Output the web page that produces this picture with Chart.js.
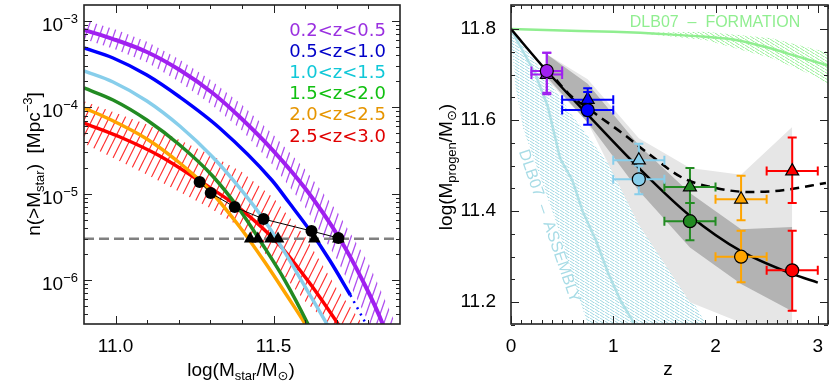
<!DOCTYPE html>
<html>
<head>
<meta charset="utf-8">
<script src="https://cdn.jsdelivr.net/npm/chart.js@4.4.0/dist/chart.umd.min.js"></script>
<style>
html, body { margin: 0; padding: 0; background: #fff; }
#wrap { position: relative; width: 830px; height: 387px; }
canvas { position: absolute; top: 0; }
</style>
</head>
<body>
<div id="wrap">
  <canvas id="leftChart" width="415" height="387" style="left:0"></canvas>
  <canvas id="rightChart" width="415" height="387" style="left:415px"></canvas>
</div>
<script>
// ---------- left panel: cumulative number densities (log10 n) vs log stellar mass ----------
const binLabels = ['0.2<z<0.5', '0.5<z<1.0', '1.0<z<1.5', '1.5<z<2.0', '2.0<z<2.5', '2.5<z<3.0'];
const binColors = ['#a020f0', '#0000ff', '#87ceeb', '#228b22', '#ffa500', '#ff0000'];
const labelColors = ['#9a30e0', '#0000c8', '#10c8d8', '#10c010', '#e69500', '#e00000'];

const massPurple = [10.900, 10.992, 11.099, 11.203, 11.307, 11.393, 11.497, 11.604, 11.708, 11.781, 11.844, 11.870];
const logPurple  = [-3.104, -3.209, -3.359, -3.568, -3.834, -4.112, -4.495, -4.958, -5.514, -6.001, -6.499, -6.780];
const massPurpleBand = [10.90, 11.00, 11.10, 11.20, 11.30, 11.40, 11.50, 11.60, 11.70, 11.80, 11.90];
const purpleHi = [-2.99, -3.10, -3.24, -3.44, -3.68, -3.97, -4.32, -4.72, -5.20, -5.80, -6.62];
const purpleLo = [-3.21, -3.33, -3.48, -3.70, -3.96, -4.27, -4.68, -5.16, -5.76, -6.48, -7.40];

const massBlue = [10.900, 10.992, 11.099, 11.203, 11.329, 11.494, 11.550, 11.614, 11.677, 11.743];
const logBlue  = [-3.313, -3.429, -3.626, -3.881, -4.240, -4.842, -5.109, -5.422, -5.769, -6.175];
const massBlueDot = [11.743, 11.800];
const logBlueDot  = [-6.175, -6.560];

const massCyan = [10.900, 10.992, 11.099, 11.203, 11.307, 11.393, 11.468, 11.535, 11.604, 11.667, 11.690];
const logCyan  = [-3.579, -3.707, -3.927, -4.217, -4.576, -4.935, -5.294, -5.677, -6.105, -6.499, -6.650];

const massGreen = [10.900, 10.992, 11.099, 11.203, 11.307, 11.393, 11.462, 11.535, 11.607, 11.630];
const logGreen  = [-3.776, -3.915, -4.147, -4.437, -4.796, -5.190, -5.572, -6.001, -6.499, -6.680];

const massOrange = [10.900, 10.973, 11.099, 11.203, 11.288, 11.393, 11.472, 11.541, 11.598, 11.620];
const logOrange  = [-4.008, -4.124, -4.367, -4.645, -4.924, -5.387, -5.793, -6.175, -6.499, -6.640];

const massRed = [10.900, 11.014, 11.140, 11.266, 11.392, 11.519, 11.614, 11.702, 11.720];
const logRed  = [-4.182, -4.344, -4.564, -4.854, -5.167, -5.596, -6.036, -6.499, -6.600];
const massRedBand = [10.90, 11.10, 11.30, 11.40, 11.50, 11.60, 11.70, 11.79, 11.85];
const redHi = [-3.93, -4.20, -4.55, -4.75, -5.05, -5.50, -6.10, -6.55, -6.90];
const redLo = [-4.42, -4.78, -5.17, -5.40, -5.80, -6.25, -6.60, -7.00, -7.20];

const massCircles = [11.266, 11.301, 11.377, 11.468, 11.620, 11.705];
const logCircles  = [-4.866, -4.993, -5.155, -5.294, -5.433, -5.514];
const massTriangles = [11.426, 11.450, 11.490, 11.514, 11.629, 11.705];
const nThreshold = 3e-6;

// ---------- right panel: progenitor mass vs redshift ----------
const zBins = [0.35, 0.75, 1.25, 1.75, 2.25, 2.75];
const zLo = [0.2, 0.5, 1.0, 1.5, 2.0, 2.5];
const zHi = [0.5, 1.0, 1.5, 2.0, 2.5, 3.0];
const circMass = [11.708, 11.622, 11.470, 11.378, 11.300, 11.270];
const circLo   = [11.657, 11.590, 11.437, 11.336, 11.244, 11.181];
const circHi   = [11.748, 11.662, 11.500, 11.418, 11.357, 11.357];
const triMass  = [11.700, 11.645, 11.512, 11.453, 11.426, 11.488];
const triLo    = [11.660, 11.610, 11.480, 11.418, 11.380, 11.418];
const triHi    = [11.748, 11.670, 11.548, 11.495, 11.478, 11.562];

const zFit = [0, 0.35, 0.75, 1.25, 1.75, 2.25, 2.75, 3.0];
const mFit = [11.800, 11.708, 11.612, 11.495, 11.390, 11.312, 11.262, 11.243];
const zFitDash = [0.35, 0.56, 0.82, 1.09, 1.34, 1.68, 2.00, 2.33, 2.66, 3.08];
const mFitDash = [11.714, 11.659, 11.615, 11.571, 11.527, 11.473, 11.451, 11.442, 11.446, 11.462];

const zBand = [0.35, 0.75, 1.25, 1.75, 2.25, 2.75];
const darkHi  = [11.745, 11.680, 11.545, 11.440, 11.360, 11.365];
const darkLo  = [11.695, 11.595, 11.445, 11.320, 11.240, 11.180];
const lightHi = [11.745, 11.690, 11.560, 11.495, 11.480, 11.585];
const lightLo = [11.690, 11.595, 11.370, 11.200, 11.155, 11.155];

const zAsmHi = [0, 0.3, 0.6, 1.0, 1.4, 1.9, 2.1];
const mAsmHi = [11.800, 11.710, 11.610, 11.490, 11.350, 11.155, 11.080];
const zAsmLo = [0, 0.04, 0.12, 0.20, 0.45, 0.65, 0.75, 2.1];
const mAsmLo = [11.790, 11.680, 11.580, 11.530, 11.370, 11.220, 11.152, 10.500];
const zAsm = [0, 0.056, 0.235, 0.36, 0.48, 0.60, 0.70, 0.83, 0.95, 1.07, 1.24, 1.32];
const mAsm = [11.800, 11.776, 11.703, 11.630, 11.516, 11.468, 11.400, 11.336, 11.264, 11.204, 11.140, 11.110];

const zForm = [0, 0.5, 1.0, 1.5, 1.9, 2.2, 2.5, 2.8, 3.1];
const mForm = [11.800, 11.797, 11.794, 11.789, 11.783, 11.776, 11.760, 11.740, 11.720];
const zFormBand = [1.3, 1.9, 2.55, 3.0, 3.1];
const formHi = [11.792, 11.794, 11.780, 11.754, 11.750];
const formLo = [11.790, 11.776, 11.736, 11.694, 11.677];

Chart.defaults.font.family = 'Liberation Sans';
Chart.defaults.color = '#000';

function pts(xs, ys, isLog) {
    return xs.map((x, i) => ({ x: x, y: isLog ? Math.pow(10, ys[i]) : ys[i] }));
}

function hatch(color, w, h, lw, slash) {
    const c = document.createElement('canvas');
    c.width = w; c.height = h;
    const g = c.getContext('2d');
    g.strokeStyle = color; g.lineWidth = lw;
    g.beginPath();
    for (let k = -1; k <= 1; k++) {
        if (slash) { g.moveTo(k * w, h); g.lineTo(k * w + w, 0); }
        else { g.moveTo(k * w, 0); g.lineTo(k * w + w, h); }
    }
    g.stroke();
    return g.createPattern(c, 'repeat');
}

function richText(ctx, parts, x, y, angle, align) {
    ctx.save();
    ctx.translate(x, y);
    ctx.rotate(angle);
    let w = 0;
    parts.forEach(p => { ctx.font = p[1] + 'px "' + (p[3] || 'Liberation Sans') + '"'; w += ctx.measureText(p[0]).width; });
    let cx = align === 'center' ? -w / 2 : (align === 'right' ? -w : 0);
    ctx.textAlign = 'left';
    ctx.textBaseline = 'alphabetic';
    parts.forEach(p => {
        ctx.font = p[1] + 'px "' + (p[3] || 'Liberation Sans') + '"';
        ctx.fillText(p[0], cx, p[2]);
        cx += ctx.measureText(p[0]).width;
    });
    ctx.restore();
}

function drawFrame(chart, xMajor, xMinor, yMajor, yMinor) {
    const { ctx, chartArea: a, scales: { x, y } } = chart;
    ctx.save();
    ctx.strokeStyle = '#222';
    ctx.lineWidth = 1;
    ctx.beginPath();
    const xt = (v, len) => {
        const p = Math.round(x.getPixelForValue(v)) + 0.5;
        ctx.moveTo(p, a.bottom); ctx.lineTo(p, a.bottom - len);
        ctx.moveTo(p, a.top); ctx.lineTo(p, a.top + len);
    };
    const yt = (v, len) => {
        const p = Math.round(y.getPixelForValue(v)) + 0.5;
        ctx.moveTo(a.left, p); ctx.lineTo(a.left + len, p);
        ctx.moveTo(a.right, p); ctx.lineTo(a.right - len, p);
    };
    xMajor.forEach(v => xt(v, 8));
    xMinor.forEach(v => xt(v, 4));
    yMajor.forEach(v => yt(v, 8));
    yMinor.forEach(v => yt(v, 4));
    ctx.stroke();
    ctx.lineWidth = 1.6;
    ctx.strokeRect(a.left, a.top, a.right - a.left, a.bottom - a.top);
    ctx.restore();
}

// Chart.js reserves room for edge labels; the frame is placed by hand, so drop that
function fixX(s) { s.height = 63; s.paddingLeft = 0; s.paddingRight = 0; }
function fixY(w) { return s => { s.width = w; s.paddingTop = 0; s.paddingBottom = 0; }; }

const hidden = 'rgba(0,0,0,0)';

// ---------- left chart ----------
const leftDecades = [-6, -5, -4, -3];
const leftMinorY = [];
for (let e = -7; e <= -3; e++) for (let m = 2; m <= 9; m++) {
    const v = m * Math.pow(10, e);
    if (v > Math.pow(10, -6.51) && v < Math.pow(10, -2.815)) leftMinorY.push(v);
}

const leftDeco = {
    id: 'leftDeco',
    afterDatasetsDraw(chart) {
        const { ctx, scales: { y } } = chart;
        drawFrame(chart, [11.0, 11.5], [11.1, 11.2, 11.3, 11.4, 11.6, 11.7, 11.8],
            leftDecades.map(e => Math.pow(10, e)), leftMinorY);
        ctx.fillStyle = '#000';
        leftDecades.forEach(e => {
            const py = y.getPixelForValue(Math.pow(10, e));
            richText(ctx, [['10', 19, 0], ['\u2212' + Math.abs(e), 13, -8]], 78, py + 10, 0, 'right');
        });
        richText(ctx, [['n(>M', 19, 0], ['star', 13, 4], [')  [Mpc', 19, 0], ['\u22123', 13, -8], [']', 19, 0]],
            40, 164, -Math.PI / 2, 'center');
        richText(ctx, [['log(M', 19, 0], ['star', 13, 4], ['/M', 19, 0], ['\u2299', 13, 4, 'DejaVu Sans'], [')', 19, 0]],
            241, 376, 0, 'center');
        ctx.textAlign = 'right';
        ctx.textBaseline = 'alphabetic';
        ctx.font = '18px "DejaVu Sans"';
        binLabels.forEach((t, i) => {
            ctx.fillStyle = labelColors[i];
            ctx.fillText(t, 386, 35.5 + i * 21.2);
        });
    }
};

const purpleHatch = hatch('#b050f0', 7, 20, 1.3, true);
const redHatch = hatch('#ff3030', 8, 16, 1.2, true);

function curve(xs, ys, color, order, extra) {
    return Object.assign({
        data: pts(xs, ys, true), borderColor: color, borderWidth: 3.5,
        pointRadius: 0, fill: false, cubicInterpolationMode: 'monotone', order: order
    }, extra || {});
}

new Chart(document.getElementById('leftChart'), {
    type: 'line',
    data: {
        datasets: [
            { data: pts(massPurpleBand, purpleHi, true), borderColor: hidden, borderWidth: 0, pointRadius: 0, backgroundColor: purpleHatch, fill: '+1', order: 20 },
            { data: pts(massPurpleBand, purpleLo, true), borderColor: hidden, borderWidth: 0, pointRadius: 0, fill: false, order: 20 },
            { data: pts(massRedBand, redHi, true), borderColor: hidden, borderWidth: 0, pointRadius: 0, backgroundColor: redHatch, fill: '+1', order: 19 },
            { data: pts(massRedBand, redLo, true), borderColor: hidden, borderWidth: 0, pointRadius: 0, fill: false, order: 19 },
            curve(massRed, logRed, binColors[5], 10),
            curve(massOrange, logOrange, binColors[4], 9),
            curve(massGreen, logGreen, binColors[3], 8),
            curve(massCyan, logCyan, binColors[2], 7),
            curve(massBlue, logBlue, binColors[1], 6),
            curve(massBlueDot, logBlueDot, binColors[1], 6, { borderWidth: 2.5, borderDash: [2, 5] }),
            curve(massPurple, logPurple, binColors[0], 5, { borderWidth: 4 }),
            { data: [{ x: 10.9, y: nThreshold }, { x: 11.9, y: nThreshold }], borderColor: '#808080', borderWidth: 2.5, borderDash: [10, 5], pointRadius: 0, fill: false, order: 4 },
            { data: massTriangles.map(m => ({ x: m, y: nThreshold })), showLine: false, pointStyle: 'triangle', pointRadius: 7.3, pointBackgroundColor: '#000', pointBorderColor: '#000', pointBorderWidth: 0, order: 3 },
            { data: pts(massCircles, logCircles, true), borderColor: '#000', borderWidth: 1, pointStyle: 'circle', pointRadius: 6, pointBackgroundColor: '#000', pointBorderWidth: 0, fill: false, tension: 0, order: 2 }
        ]
    },
    options: {
        responsive: false, animation: false, devicePixelRatio: 1,
        layout: { autoPadding: false, padding: { top: 5, right: 15, left: 0, bottom: 0 } },
        plugins: { legend: { display: false }, tooltip: { enabled: false } },
        scales: {
            x: {
                type: 'linear', min: 10.9, max: 11.9, bounds: 'data',
                grid: { display: false }, border: { display: false },
                ticks: { font: { size: 19 }, padding: 3, maxRotation: 0, callback: v => v.toFixed(1) },
                afterBuildTicks: s => { s.ticks = [11.0, 11.5].map(v => ({ value: v })); },
                afterFit: fixX
            },
            y: {
                type: 'logarithmic', min: Math.pow(10, -6.51), max: Math.pow(10, -2.815), bounds: 'data',
                grid: { display: false }, border: { display: false },
                ticks: { display: false },
                afterFit: fixY(84)
            }
        }
    },
    plugins: [leftDeco]
});

// ---------- right chart ----------
const rightMinorX = [];
for (let k = 1; k <= 31; k++) if (k % 10 !== 0) rightMinorX.push(k / 10);
const rightMinorY = [];
for (let k = 0; k <= 14; k++) { const v = 11.15 + k * 0.05; if (Math.round(v * 100) % 20 !== 0) rightMinorY.push(v); }

const errBars = {
    id: 'errBars',
    beforeDatasetDraw(chart, args) {
        const ds = chart.data.datasets[args.index];
        if (!ds.errLo) return;
        const { ctx, scales: { x, y } } = chart;
        ctx.save();
        ctx.lineWidth = 2;
        zBins.forEach((z, i) => {
            const px = x.getPixelForValue(z), py = y.getPixelForValue(ds.values[i]);
            const x0 = x.getPixelForValue(zLo[i]), x1 = x.getPixelForValue(zHi[i]);
            const y0 = y.getPixelForValue(ds.errLo[i]), y1 = y.getPixelForValue(ds.errHi[i]);
            ctx.strokeStyle = binColors[i];
            ctx.beginPath();
            ctx.moveTo(x0, py); ctx.lineTo(x1, py);
            ctx.moveTo(x0, py - 4.5); ctx.lineTo(x0, py + 4.5);
            ctx.moveTo(x1, py - 4.5); ctx.lineTo(x1, py + 4.5);
            ctx.moveTo(px, y0); ctx.lineTo(px, y1);
            ctx.moveTo(px - 4.5, y0); ctx.lineTo(px + 4.5, y0);
            ctx.moveTo(px - 4.5, y1); ctx.lineTo(px + 4.5, y1);
            ctx.stroke();
        });
        ctx.restore();
    }
};

const rightDeco = {
    id: 'rightDeco',
    afterDatasetsDraw(chart) {
        const { ctx } = chart;
        ctx.save();
        ctx.fillStyle = '#90ee90';
        ctx.font = '16px "Liberation Sans"';
        ctx.textAlign = 'center';
        ctx.textBaseline = 'alphabetic';
        ctx.fillText('DLB07  \u2013  FORMATION', 300, 26.5);
        ctx.translate(134, 226);
        ctx.rotate(71 * Math.PI / 180);
        ctx.fillStyle = '#a8dce6';
        ctx.textBaseline = 'middle';
        ctx.fillText('DLB07  \u2013  ASSEMBLY', 0, 0);
        ctx.restore();
        drawFrame(chart, [0, 1, 2, 3], rightMinorX, [11.2, 11.4, 11.6, 11.8], rightMinorY);
        ctx.fillStyle = '#000';
        richText(ctx, [['log(M', 19, 0], ['progen', 13, 4], ['/M', 19, 0], ['\u2299', 13, 4, 'DejaVu Sans'], [')', 19, 0]],
            37, 167, -Math.PI / 2, 'center');
        richText(ctx, [['z', 19, 0]], 253, 375, 0, 'center');
    }
};

const cyanHatch = hatch('#9fd8e2', 5, 3.5, 1, false);
const greenHatch = hatch('#98f098', 5, 3.5, 1, false);

new Chart(document.getElementById('rightChart'), {
    type: 'line',
    data: {
        datasets: [
            { data: pts(zAsmHi, mAsmHi), borderColor: hidden, borderWidth: 0, pointRadius: 0, backgroundColor: cyanHatch, fill: '+1', order: 30 },
            { data: pts(zAsmLo, mAsmLo), borderColor: hidden, borderWidth: 0, pointRadius: 0, fill: false, order: 30 },
            { data: pts(zFormBand, formHi), borderColor: hidden, borderWidth: 0, pointRadius: 0, backgroundColor: greenHatch, fill: '+1', order: 29 },
            { data: pts(zFormBand, formLo), borderColor: hidden, borderWidth: 0, pointRadius: 0, fill: false, order: 29 },
            { data: pts(zBand, lightHi), borderColor: hidden, borderWidth: 0, pointRadius: 0, backgroundColor: '#e6e6e6', fill: '+1', order: 28 },
            { data: pts(zBand, lightLo), borderColor: hidden, borderWidth: 0, pointRadius: 0, fill: false, order: 28 },
            { data: pts(zBand, darkHi), borderColor: hidden, borderWidth: 0, pointRadius: 0, backgroundColor: '#b3b3b3', fill: '+1', order: 27 },
            { data: pts(zBand, darkLo), borderColor: hidden, borderWidth: 0, pointRadius: 0, fill: false, order: 27 },
            { data: pts(zAsm, mAsm), borderColor: '#b0e0e6', borderWidth: 2.5, pointRadius: 0, fill: false, tension: 0, order: 20 },
            { data: pts(zForm, mForm), borderColor: '#90ee90', borderWidth: 2.5, pointRadius: 0, fill: false, cubicInterpolationMode: 'monotone', order: 19 },
            { data: pts(zFit, mFit), borderColor: '#000', borderWidth: 2.5, pointRadius: 0, fill: false, cubicInterpolationMode: 'monotone', order: 10 },
            { data: pts(zFitDash, mFitDash), borderColor: '#000', borderWidth: 2.5, borderDash: [9, 6], pointRadius: 0, fill: false, cubicInterpolationMode: 'monotone', order: 9 },
            { data: pts(zBins, triMass), values: triMass, errLo: triLo, errHi: triHi, showLine: false, pointStyle: 'triangle', pointRadius: 7.5,
              pointBackgroundColor: binColors, pointBorderColor: '#000', pointBorderWidth: 1.2, order: 5 },
            { data: pts(zBins, circMass), values: circMass, errLo: circLo, errHi: circHi, showLine: false, pointStyle: 'circle', pointRadius: 6.5,
              pointBackgroundColor: binColors, pointBorderColor: '#000', pointBorderWidth: 1.2, order: 4 }
        ]
    },
    options: {
        responsive: false, animation: false, devicePixelRatio: 1,
        layout: { autoPadding: false, padding: { top: 5, right: 2, left: 0, bottom: 0 } },
        plugins: { legend: { display: false }, tooltip: { enabled: false } },
        scales: {
            x: {
                type: 'linear', min: 0, max: 3.1, bounds: 'data',
                grid: { display: false }, border: { display: false },
                ticks: { font: { size: 19 }, padding: 3, maxRotation: 0, callback: v => String(v) },
                afterBuildTicks: s => { s.ticks = [0, 1, 2, 3].map(v => ({ value: v })); },
                afterFit: fixX
            },
            y: {
                type: 'linear', min: 11.152, max: 11.853, bounds: 'data',
                grid: { display: false }, border: { display: false },
                ticks: { font: { size: 19 }, padding: 7, callback: v => v.toFixed(1) },
                afterBuildTicks: s => { s.ticks = [11.2, 11.4, 11.6, 11.8].map(v => ({ value: v })); },
                afterFit: fixY(96)
            }
        }
    },
    plugins: [errBars, rightDeco]
});
</script>
</body>
</html>
